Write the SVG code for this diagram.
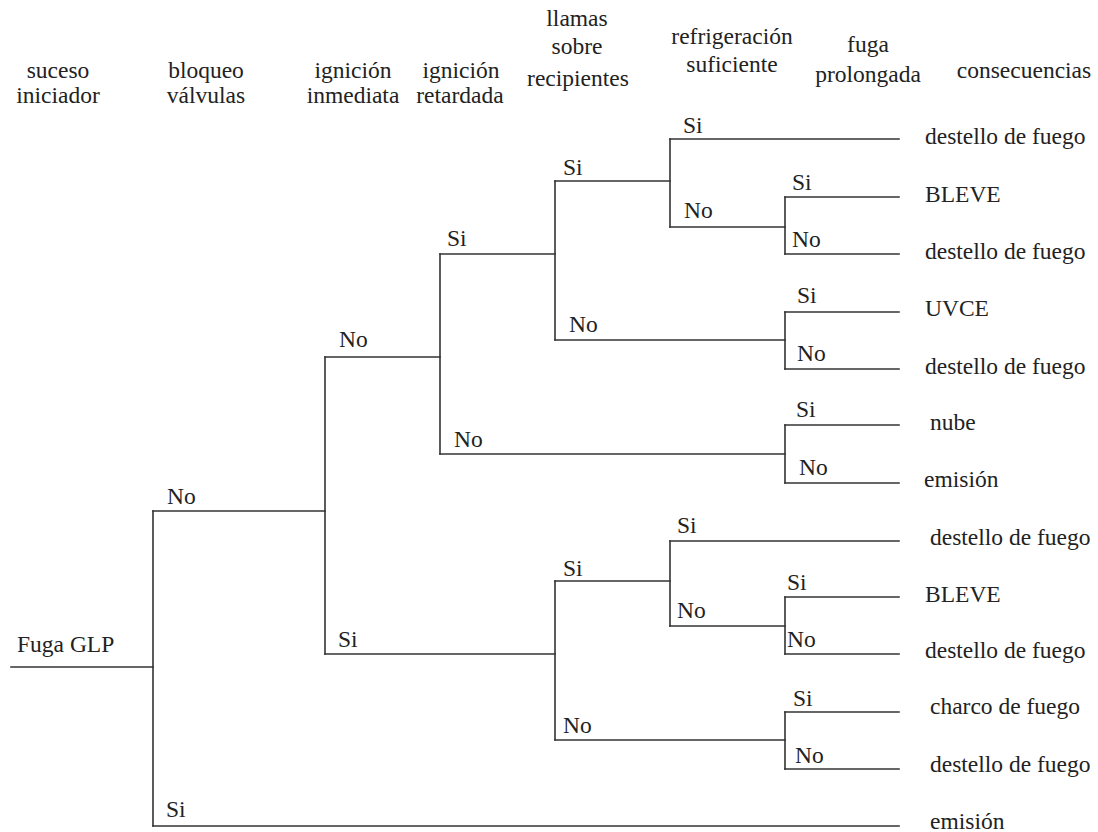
<svg xmlns="http://www.w3.org/2000/svg" width="1098" height="832" viewBox="0 0 1098 832">
<style>
text{font-size:23.5px;fill:#222}
.h{text-anchor:middle}
.c line{stroke:#333;stroke-width:1.6;stroke-linecap:square}
</style>
<rect width="1098" height="832" fill="#fff"/>
<g id="headers" font-family="Liberation Serif, Times New Roman, DejaVu Serif, serif">
<text class="h" x="58" y="78">suceso</text>
<text class="h" x="58" y="103">iniciador</text>
<text class="h" x="206" y="78">bloqueo</text>
<text class="h" x="206" y="103">válvulas</text>
<text class="h" x="353" y="78">ignición</text>
<text class="h" x="353" y="103">inmediata</text>
<text class="h" x="461" y="78">ignición</text>
<text class="h" x="460" y="103">retardada</text>
<text class="h" x="577" y="26">llamas</text>
<text class="h" x="577" y="54">sobre</text>
<text class="h" x="578" y="86">recipientes</text>
<text class="h" x="732" y="44">refrigeración</text>
<text class="h" x="732" y="72">suficiente</text>
<text class="h" x="868" y="52">fuga</text>
<text class="h" x="868" y="82">prolongada</text>
<text class="h" x="1024" y="78">consecuencias</text>
</g>
<g id="connectors" class="c">
<line x1="11" y1="667" x2="153" y2="667"/>
<line x1="153" y1="511" x2="153" y2="826"/>
<line x1="153" y1="511" x2="325" y2="511"/>
<line x1="153" y1="826" x2="899" y2="826"/>
<line x1="325" y1="357" x2="325" y2="654"/>
<line x1="325" y1="357" x2="440" y2="357"/>
<line x1="325" y1="654" x2="555" y2="654"/>
<line x1="440" y1="254" x2="440" y2="454"/>
<line x1="440" y1="254" x2="555" y2="254"/>
<line x1="440" y1="454" x2="785" y2="454"/>
<line x1="555" y1="181" x2="555" y2="340"/>
<line x1="555" y1="181" x2="670" y2="181"/>
<line x1="555" y1="340" x2="785" y2="340"/>
<line x1="670" y1="139" x2="670" y2="227"/>
<line x1="670" y1="139" x2="899" y2="139"/>
<line x1="670" y1="227" x2="785" y2="227"/>
<line x1="785" y1="197" x2="785" y2="254"/>
<line x1="785" y1="197" x2="899" y2="197"/>
<line x1="785" y1="254" x2="899" y2="254"/>
<line x1="785" y1="312" x2="785" y2="369"/>
<line x1="785" y1="312" x2="899" y2="312"/>
<line x1="785" y1="369" x2="899" y2="369"/>
<line x1="785" y1="425" x2="785" y2="483"/>
<line x1="785" y1="425" x2="899" y2="425"/>
<line x1="785" y1="483" x2="899" y2="483"/>
<line x1="555" y1="581" x2="555" y2="740"/>
<line x1="555" y1="581" x2="670" y2="581"/>
<line x1="555" y1="740" x2="785" y2="740"/>
<line x1="670" y1="541" x2="670" y2="626"/>
<line x1="670" y1="541" x2="899" y2="541"/>
<line x1="670" y1="626" x2="785" y2="626"/>
<line x1="785" y1="597" x2="785" y2="654"/>
<line x1="785" y1="597" x2="899" y2="597"/>
<line x1="785" y1="654" x2="899" y2="654"/>
<line x1="785" y1="712" x2="785" y2="769"/>
<line x1="785" y1="712" x2="899" y2="712"/>
<line x1="785" y1="769" x2="899" y2="769"/>
</g>
<g id="branch-labels" font-family="Liberation Serif, Times New Roman, DejaVu Serif, serif">
<text x="17" y="652">Fuga GLP</text>
<text x="167" y="504">No</text>
<text x="166" y="817">Si</text>
<text x="339" y="347">No</text>
<text x="338" y="647">Si</text>
<text x="447" y="246">Si</text>
<text x="454" y="447">No</text>
<text x="563" y="175">Si</text>
<text x="569" y="332">No</text>
<text x="683" y="133">Si</text>
<text x="684" y="218">No</text>
<text x="792" y="190">Si</text>
<text x="792" y="247">No</text>
<text x="797" y="303">Si</text>
<text x="797" y="361">No</text>
<text x="796" y="417">Si</text>
<text x="799" y="475">No</text>
<text x="563" y="576">Si</text>
<text x="563" y="733">No</text>
<text x="677" y="533">Si</text>
<text x="677" y="618">No</text>
<text x="787" y="590">Si</text>
<text x="787" y="647">No</text>
<text x="793" y="706">Si</text>
<text x="795" y="763">No</text>
</g>
<g id="consequences" font-family="Liberation Serif, Times New Roman, DejaVu Serif, serif">
<text x="925" y="144">destello de fuego</text>
<text x="925" y="202">BLEVE</text>
<text x="925" y="259">destello de fuego</text>
<text x="925" y="316">UVCE</text>
<text x="925" y="374">destello de fuego</text>
<text x="930" y="430">nube</text>
<text x="924" y="487">emisión</text>
<text x="930" y="545">destello de fuego</text>
<text x="925" y="602">BLEVE</text>
<text x="925" y="658">destello de fuego</text>
<text x="930" y="714">charco de fuego</text>
<text x="930" y="772">destello de fuego</text>
<text x="930" y="829">emisión</text>
</g>
</svg>
